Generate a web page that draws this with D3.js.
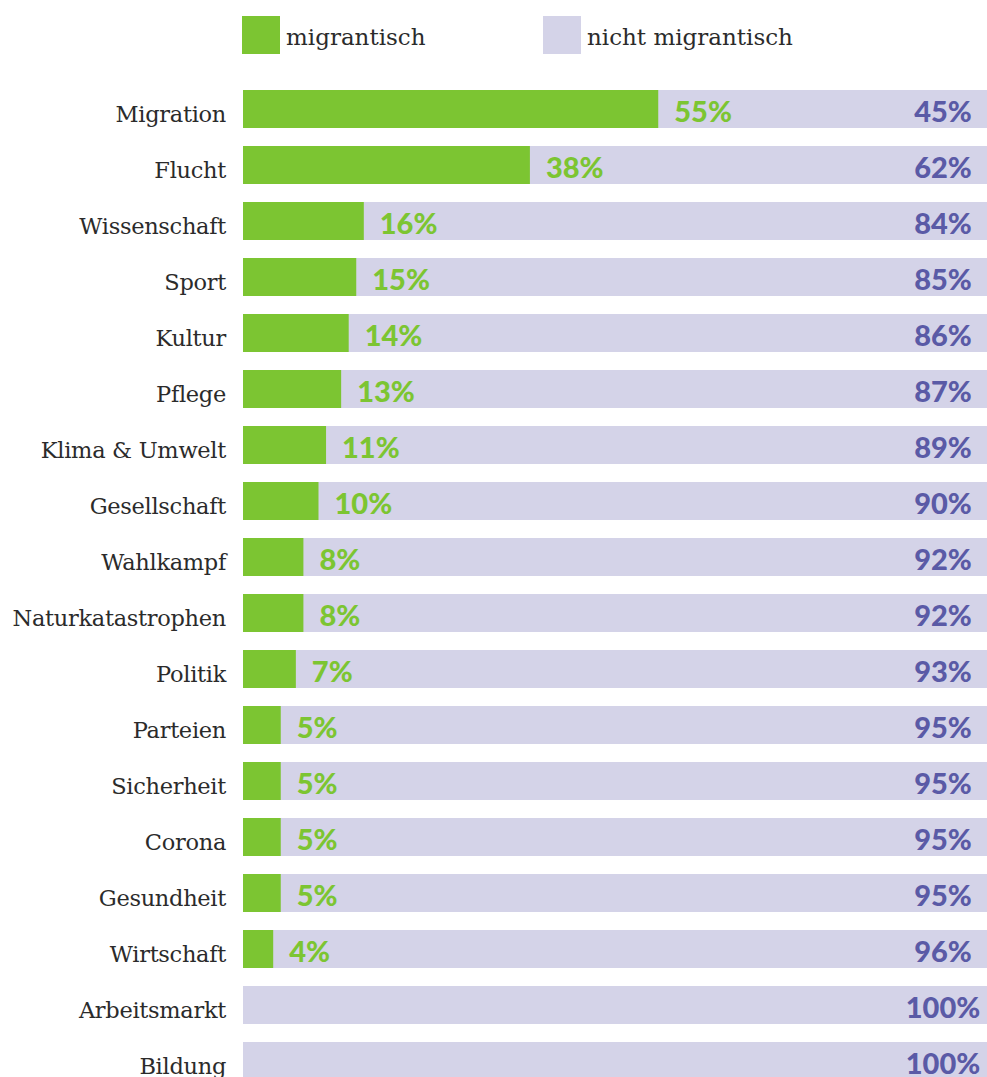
<!DOCTYPE html>
<html>
<head>
<meta charset="utf-8">
<script src="https://cdn.jsdelivr.net/npm/d3@7"></script>
<style>
  body { margin: 0; background: #fff; }
  svg { display: block; }
  .cat { font-family: "DejaVu Serif", serif; font-size: 22.5px; fill: #2b2b2b; }
  .leg { font-family: "DejaVu Serif", serif; font-size: 23px; fill: #2b2b2b; }
  .pct { font-family: Lato, "Open Sans", sans-serif; font-weight: 900; font-size: 29px; }
</style>
</head>
<body>
<script>
"use strict";

// data
const categories = ["Migration", "Flucht", "Wissenschaft", "Sport", "Kultur", "Pflege", "Klima & Umwelt", "Gesellschaft", "Wahlkampf", "Naturkatastrophen", "Politik", "Parteien", "Sicherheit", "Corona", "Gesundheit", "Wirtschaft", "Arbeitsmarkt", "Bildung"];
const migrantisch = [55, 38, 16, 15, 14, 13, 11, 10, 8, 8, 7, 5, 5, 5, 5, 4, 0, 0];
const nichtMigrantisch = [45, 62, 84, 85, 86, 87, 89, 90, 92, 92, 93, 95, 95, 95, 95, 96, 100, 100];
const seriesNames = ["migrantisch", "nicht migrantisch"];

const rows = categories.map((c, i) => ({ cat: c, m: migrantisch[i], n: nichtMigrantisch[i] }));

// settings
const width = 987, height = 1077;
const green = "#7cc532", lavender = "#d4d3e8", purple = "#5a5aa6";

const svg = d3.select("body").append("svg")
  .attr("width", width)
  .attr("height", height);

// scales
const scaleX = d3.scaleLinear().domain([0, 100]).range([243, 998]);
const scaleY = d3.scaleBand()
  .domain(categories)
  .range([90, 90 + 17 * 56 + 38])
  .paddingInner(18 / 56)
  .paddingOuter(0);
const scaleColor = d3.scaleOrdinal().domain(seriesNames).range([green, lavender]);

// legend
const legend = svg.append("g").attr("class", "legend");
const legendX = [242, 543];
seriesNames.forEach((s, i) => {
  const g = legend.append("g").attr("transform", `translate(${legendX[i]}, 16)`);
  g.append("rect").attr("width", 38).attr("height", 38).attr("fill", scaleColor(s));
  g.append("text").attr("class", "leg").attr("x", 44).attr("y", 29).text(s);
});

// rows
const row = svg.selectAll("g.row")
  .data(rows)
  .join("g")
  .attr("class", "row")
  .attr("transform", d => `translate(0, ${scaleY(d.cat)})`);

// background = 100%
row.append("rect")
  .attr("x", scaleX(0))
  .attr("width", scaleX(100) - scaleX(0))
  .attr("height", scaleY.bandwidth())
  .attr("fill", lavender);

row.append("rect")
  .attr("x", scaleX(0))
  .attr("width", d => scaleX(d.m) - scaleX(0))
  .attr("height", scaleY.bandwidth())
  .attr("fill", green);

// category labels
row.append("text")
  .attr("class", "cat")
  .attr("x", 226)
  .attr("y", 31.5)
  .attr("text-anchor", "end")
  .style("letter-spacing", "-0.3px")
  .text(d => d.cat);

// percent labels
row.filter(d => d.m > 0).append("text")
  .attr("class", "pct")
  .attr("x", d => scaleX(d.m) + 16)
  .attr("y", 31.5)
  .attr("fill", green)
  .text(d => d.m + "%");

row.append("text")
  .attr("class", "pct")
  .attr("x", 943)
  .attr("y", 31.5)
  .attr("text-anchor", "middle")
  .attr("fill", purple)
  .text(d => d.n + "%");
</script>
</body>
</html>
